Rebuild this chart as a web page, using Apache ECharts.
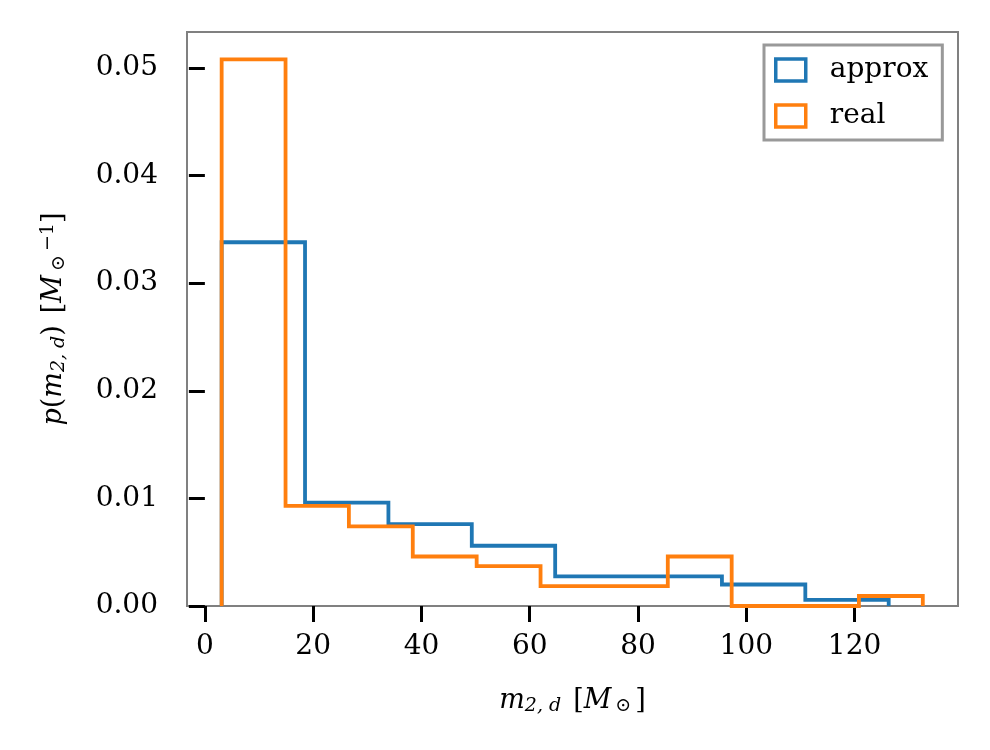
<!DOCTYPE html>
<html>
<head>
<meta charset="utf-8">
<script src="https://cdn.jsdelivr.net/npm/echarts@6/dist/echarts.min.js"></script>
<style>
html, body { margin: 0; padding: 0; background: #fff; }
#chart { width: 990px; height: 750px; }
</style>
</head>
<body>
<div id="chart"></div>
<script>
// bin edges and densities
const approxEdges = [3.1, 18.5, 33.9, 49.3, 64.7, 80.1, 95.5, 110.9, 126.3];
const approxDensity = [0.0338, 0.0096, 0.0076, 0.0056, 0.00276, 0.00276, 0.0020, 0.00056];
const realEdges = [3.1, 14.9, 26.6, 38.4, 50.2, 62.0, 73.7, 85.5, 97.3, 109.1, 120.8, 132.6];
const realDensity = [0.0508, 0.0093, 0.0074, 0.0046, 0.0037, 0.00185, 0.00185, 0.0046, 0, 0, 0.00093];
const xTicks = [0, 20, 40, 60, 80, 100, 120];
const yTicks = [0, 0.01, 0.02, 0.03, 0.04, 0.05];
const seriesNames = ['approx', 'real'];

const FONT = 'DejaVu Serif';
const BLUE = '#1f77b4';
const ORANGE = '#ff7f0e';

// histtype='step' outline
function stepLine(edges, dens) {
    const pts = [[edges[0], 0]];
    for (let i = 0; i < dens.length; i++) {
        pts.push([edges[i], dens[i]]);
        pts.push([edges[i + 1], dens[i]]);
    }
    pts.push([edges[edges.length - 1], 0]);
    return pts;
}

const mathRich = {
    i: { fontFamily: FONT, fontStyle: 'italic', fontSize: 27, color: '#000', lineHeight: 30 },
    r: { fontFamily: FONT, fontSize: 27, color: '#000', lineHeight: 30 },
    sp: { fontFamily: FONT, fontSize: 27, color: '#000', lineHeight: 30, width: 12 },
    s: { fontFamily: FONT, fontStyle: 'italic', fontSize: 19, color: '#000', lineHeight: 20, verticalAlign: 'bottom' },
    sr: { fontFamily: FONT, fontSize: 19, color: '#000', lineHeight: 20, verticalAlign: 'bottom', padding: [0, 4, 0, 4] },
    sup: { fontFamily: FONT, fontSize: 19, color: '#000', lineHeight: 20, verticalAlign: 'top' }
};

const chart = echarts.init(document.getElementById('chart'));
const option = {
    animation: false,
    backgroundColor: '#fff',
    grid: {
        left: 187, right: 32, top: 32, bottom: 144,
        show: true, borderColor: '#808080', borderWidth: 2,
        containLabel: false
    },
    legend: {
        orient: 'vertical',
        left: 764, top: 45,
        padding: [11, 14, 10, 10],
        itemGap: 18,
        itemWidth: 30, itemHeight: 22,
        backgroundColor: '#fff',
        borderColor: '#999999', borderWidth: 3, borderRadius: 0,
        textStyle: { fontFamily: FONT, fontSize: 28, color: '#000', padding: [0, 0, 0, 19] },
        data: [
            { name: seriesNames[0], icon: 'rect', itemStyle: { color: '#fff', borderColor: BLUE, borderWidth: 3.5 } },
            { name: seriesNames[1], icon: 'rect', itemStyle: { color: '#fff', borderColor: ORANGE, borderWidth: 3.5 } }
        ]
    },
    xAxis: {
        type: 'value',
        min: -3.3, max: 139.1,
        name: '{i|m}{s|2, d}{sp|}{r|[}{i|M}{sr|⊙}{r|]}',
        nameLocation: 'middle',
        nameGap: 80,
        nameTextStyle: { rich: mathRich },
        axisLine: { show: false },
        axisTick: { show: true, length: 16, lineStyle: { color: '#000', width: 3 }, customValues: xTicks },
        axisLabel: { fontFamily: FONT, fontSize: 28, color: '#000', margin: 27, customValues: xTicks },
        splitLine: { show: false }
    },
    yAxis: {
        type: 'value',
        min: 0, max: 0.05334,
        name: '{i|p}{r|(}{i|m}{s|2, d}{r|)}{sp|}{r|[}{i|M}{sr|⊙}{sup|−1}{r|]}',
        nameLocation: 'middle',
        nameRotate: 90,
        nameGap: 118,
        nameTextStyle: { rich: mathRich },
        axisLine: { show: false },
        axisTick: { show: true, length: 16, lineStyle: { color: '#000', width: 3 }, customValues: yTicks },
        axisLabel: {
            fontFamily: FONT, fontSize: 28, color: '#000', margin: 29,
            customValues: yTicks,
            formatter: v => v.toFixed(2)
        },
        splitLine: { show: false }
    },
    series: [
        {
            name: seriesNames[0], type: 'line', symbol: 'none', silent: true,
            itemStyle: { color: BLUE },
            lineStyle: { color: BLUE, width: 3.8, join: 'miter' },
            data: stepLine(approxEdges, approxDensity)
        },
        {
            name: seriesNames[1], type: 'line', symbol: 'none', silent: true,
            itemStyle: { color: ORANGE },
            lineStyle: { color: ORANGE, width: 3.8, join: 'miter' },
            data: stepLine(realEdges, realDensity)
        }
    ]
};
chart.setOption(option);
</script>
</body>
</html>
